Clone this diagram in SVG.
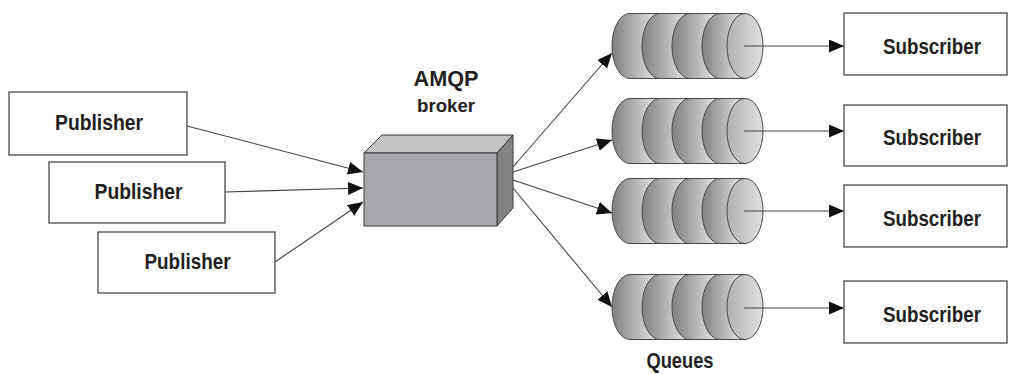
<svg xmlns="http://www.w3.org/2000/svg" width="1009" height="374" viewBox="0 0 1009 374">
  <style>
    .box { fill: #ffffff; stroke: #3a3a3a; stroke-width: 1.2; }
    .lbl { font-family: "Liberation Sans", Arial, sans-serif; font-weight: bold; fill: #231f20; text-anchor: middle; }
    .edge { stroke: #444444; stroke-width: 1.1; fill: none; marker-end: url(#arrow); }
    .seg { fill: url(#segGrad); stroke: #4a4a4a; stroke-width: 1; }
    .face { fill: url(#faceGrad); stroke: #4a4a4a; stroke-width: 1; }
  </style>
  <defs>
    <marker id="arrow" markerUnits="userSpaceOnUse" markerWidth="16" markerHeight="14" refX="15" refY="6.5" orient="auto">
      <path d="M0,0 L15,6.5 L0,13 Z" fill="#111111"/>
    </marker>
    <linearGradient id="segGrad" x1="0" y1="0" x2="1" y2="0">
      <stop offset="0" stop-color="#7e7f81"/>
      <stop offset="0.55" stop-color="#b9babc"/>
      <stop offset="1" stop-color="#eeeeef"/>
    </linearGradient>
    <linearGradient id="faceGrad" x1="0" y1="0" x2="1" y2="0">
      <stop offset="0" stop-color="#b0b1b3"/>
      <stop offset="1" stop-color="#dfe0e2"/>
    </linearGradient>
    <!-- one queue cylinder centred on y=0: four stacked discs and a front face -->
    <g id="queue">
      <path class="seg" d="M660,-32.5 L630,-32.5 A18,32.5 0 0 0 630,32.5 L660,32.5"/>
      <path class="seg" d="M690,-32.5 L660,-32.5 A18,32.5 0 0 0 660,32.5 L690,32.5"/>
      <path class="seg" d="M720,-32.5 L690,-32.5 A18,32.5 0 0 0 690,32.5 L720,32.5"/>
      <path class="seg" d="M745,-32.5 L720,-32.5 A18,32.5 0 0 0 720,32.5 L745,32.5"/>
      <ellipse class="face" cx="745" cy="0" rx="18" ry="32.5"/>
    </g>
  </defs>

  <rect width="1009" height="374" fill="#ffffff"/>

  <g id="connectors">
    <line class="edge" x1="187" y1="126" x2="363" y2="172"/>
    <line class="edge" x1="225" y1="192" x2="363" y2="188"/>
    <line class="edge" x1="275" y1="262" x2="363" y2="202"/>
    <line class="edge" x1="513" y1="167" x2="612" y2="53"/>
    <line class="edge" x1="513" y1="172" x2="612" y2="140"/>
    <line class="edge" x1="513" y1="180" x2="612" y2="213"/>
    <line class="edge" x1="513" y1="188" x2="612" y2="307"/>
  </g>

  <g id="publisher1">
    <rect class="box" x="9" y="92" width="178" height="63"/>
    <text class="lbl" x="99" y="130" font-size="22" textLength="88" lengthAdjust="spacingAndGlyphs">Publisher</text>
  </g>
  <g id="publisher2">
    <rect class="box" x="49" y="162" width="176" height="61"/>
    <text class="lbl" x="138.5" y="199" font-size="22" textLength="88" lengthAdjust="spacingAndGlyphs">Publisher</text>
  </g>
  <g id="publisher3">
    <rect class="box" x="98" y="232" width="177" height="61"/>
    <text class="lbl" x="187.5" y="269" font-size="22" textLength="86" lengthAdjust="spacingAndGlyphs">Publisher</text>
  </g>

  <g id="broker">
    <polygon points="364,153 382,135 513,135 497,153" fill="#c3c4c6" stroke="#3a3a3a" stroke-width="1"/>
    <polygon points="497,153 513,135 513,208 497,226" fill="#828385" stroke="#3a3a3a" stroke-width="1"/>
    <rect x="364" y="153" width="133" height="73" fill="#a7a8ab" stroke="#3a3a3a" stroke-width="1"/>
    <text class="lbl" x="446" y="86" font-size="22" textLength="65" lengthAdjust="spacingAndGlyphs">AMQP</text>
    <text class="lbl" x="446" y="112" font-size="19" textLength="58" lengthAdjust="spacingAndGlyphs">broker</text>
  </g>

  <g id="queue1">
    <use href="#queue" y="46"/>
    <line class="edge" x1="744" y1="46" x2="844" y2="46"/>
  </g>
  <g id="queue2">
    <use href="#queue" y="131"/>
    <line class="edge" x1="744" y1="131" x2="844" y2="131"/>
  </g>
  <g id="queue3">
    <use href="#queue" y="211"/>
    <line class="edge" x1="744" y1="211" x2="844" y2="211"/>
  </g>
  <g id="queue4">
    <use href="#queue" y="307"/>
    <line class="edge" x1="744" y1="308" x2="844" y2="308"/>
  </g>
  <g id="queues-label">
    <text class="lbl" x="680" y="368" font-size="22" textLength="67" lengthAdjust="spacingAndGlyphs">Queues</text>
  </g>

  <g id="subscriber1">
    <rect class="box" x="844" y="13" width="163" height="62"/>
    <text class="lbl" x="932" y="54" font-size="22" textLength="98" lengthAdjust="spacingAndGlyphs">Subscriber</text>
  </g>
  <g id="subscriber2">
    <rect class="box" x="844" y="105" width="163" height="61"/>
    <text class="lbl" x="932" y="145" font-size="22" textLength="98" lengthAdjust="spacingAndGlyphs">Subscriber</text>
  </g>
  <g id="subscriber3">
    <rect class="box" x="844" y="185" width="163" height="62"/>
    <text class="lbl" x="932" y="226" font-size="22" textLength="98" lengthAdjust="spacingAndGlyphs">Subscriber</text>
  </g>
  <g id="subscriber4">
    <rect class="box" x="844" y="281" width="163" height="62"/>
    <text class="lbl" x="932" y="322" font-size="22" textLength="98" lengthAdjust="spacingAndGlyphs">Subscriber</text>
  </g>
</svg>
